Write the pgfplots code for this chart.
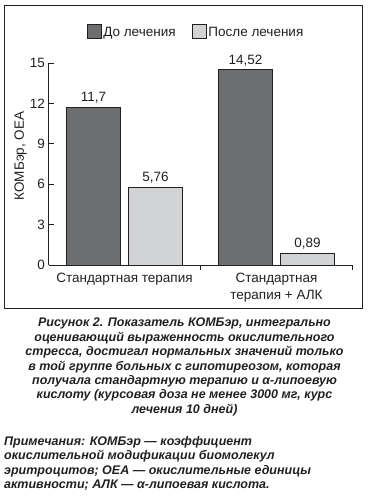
\documentclass[border=0pt]{standalone}
\usepackage{fontspec}
\setmainfont{Liberation Sans}
\usepackage{pgfplots}
\pgfplotsset{compat=1.18}
\definecolor{darkbar}{HTML}{6D6E70}
\definecolor{lightbar}{HTML}{D1D3D4}
\definecolor{ink}{HTML}{231F20}
\begin{document}
\begin{tikzpicture}
\path[use as bounding box] (0pt,0pt) rectangle (368pt,-500pt);
\draw[line width=1pt, ink] (4.5pt,-5.5pt) rectangle (362.5pt,-308pt);
\begin{axis}[
  at={(48.5pt,-265pt)}, anchor=south west,
  scale only axis, width=304pt, height=202pt,
  xmin=-0.5, xmax=1.5, ymin=0, ymax=15,
  clip=false,
  axis x line*=bottom, axis y line*=left,
  axis line style={ink, line width=0.8pt},
  ytick={0,3,...,15},
  xtick={0.5,1.5},
  xticklabels={Стандартная терапия,{Стандартная\\терапия + АЛК}},
  xticklabel style={xshift=-76pt, align=center, font=\fontsize{13.5}{17}\selectfont, text=ink},
  yticklabel style={font=\fontsize{13.5}{15}\selectfont, text=ink},
  tick align=inside, major tick length=5pt,
  tick style={ink, line width=0.8pt},
  ybar=8pt, bar width=54pt,
  nodes near coords,
  every node near coord/.append style={font=\fontsize{13.5}{15}\selectfont, text=ink},
  /pgf/number format/assume math mode=true,
  /pgf/number format/use comma,
  ylabel={КОМБэр, ОЕА},
  ylabel style={at={(axis description cs:-0.092,0.54)}, anchor=center, font=\fontsize{13.5}{15}\selectfont, text=ink},
  legend style={at={(0.485,1.153)}, anchor=center, draw=none, fill=none,
    legend columns=2, font=\fontsize{13.5}{15}\selectfont, text=ink,
    /tikz/every even column/.append style={column sep=14pt}},
  sqlegend/.style={legend image code/.code={\draw[##1, bar shift=0pt] (0pt,-5pt) rectangle (14pt,9pt);}},
]
\addplot[draw=ink, line width=0.8pt, fill=darkbar, sqlegend] coordinates {(0,11.7) (1,14.52)};
\addplot[draw=ink, line width=0.8pt, fill=lightbar, sqlegend] coordinates {(0,5.76) (1,0.89)};
\legend{До лечения, После лечения}
\end{axis}
\node[anchor=north, align=center, inner sep=0pt, text=ink,
  font=\fontsize{12.5}{14.4}\selectfont\bfseries\itshape] at (184.5pt,-318pt) {%
Рисунок 2. Показатель КОМБэр, интегрально\\
оценивающий выраженность окислительного\\
стресса, достигал нормальных значений только\\
в той группе больных с гипотиреозом, которая\\
получала стандартную терапию и α-липоевую\\
кислоту (курсовая доза не менее 3000 мг, курс\\
лечения 10 дней)};
\node[anchor=north west, align=left, inner sep=0pt, text=ink,
  font=\fontsize{12.5}{14.4}\selectfont\bfseries\itshape] at (4pt,-436pt) {%
Примечания: КОМБэр — коэффициент\\
окислительной модификации биомолекул\\
эритроцитов; ОЕА — окислительные единицы\\
активности; АЛК — α-липоевая кислота.};
\end{tikzpicture}
\end{document}
